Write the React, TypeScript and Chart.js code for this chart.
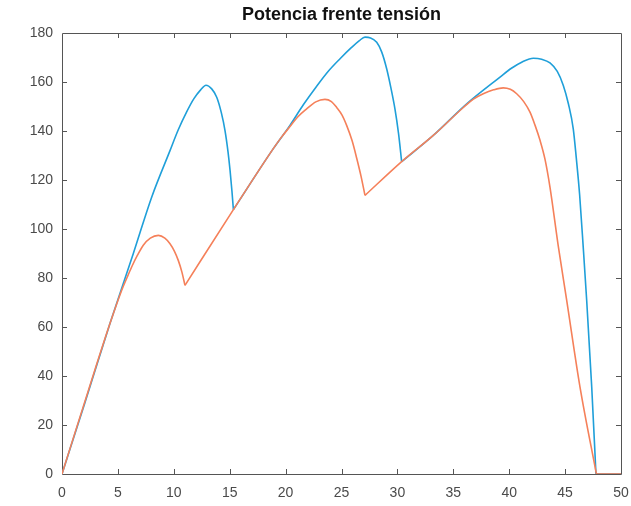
import React, { useEffect, useRef } from "react";
import { Chart, registerables } from "chart.js";

Chart.register(...registerables);

const TITLE = "Potencia frente tensión";

const X_MIN = 0;
const X_MAX = 50;
const X_STEP = 5;
const Y_MIN = 0;
const Y_MAX = 180;
const Y_STEP = 20;

// Blue series: voltage (V) and power (W)
const blueV = [
  0, 2, 4.29, 6.38, 8.02, 9.66, 10.4, 11.15, 11.8, 12.4, 12.88, 13.39, 13.84,
  14.25, 14.58, 14.85, 15.03, 15.2, 15.33,
  18.9, 20.39, 21.6, 22.78, 23.8, 24.87, 25.9, 26.6, 27.1, 27.6, 28.15, 28.6,
  29.04, 29.4, 29.78, 30.1, 30.38,
  33.21, 36.2, 39.18, 40.2, 41.2, 42.16, 42.9, 43.65, 44.3, 44.84, 45.3, 45.73,
  46.0, 46.3, 46.63, 46.93, 47.38, 47.76, 50,
];
const blueP = [
  0, 28.4, 61.4, 90, 113, 132, 140.5, 147.8, 153.2, 156.8, 158.7, 157.2, 153.8,
  147.5, 140.2, 131.5, 124, 115.5, 107.9,
  132.8, 142.3, 150.8, 158.3, 164.3, 169.5, 174.1, 176.9, 178.3, 178, 176.2, 172.2,
  165.4, 158, 149, 139, 127.5,
  138.2, 151.1, 162, 165.6, 168.3, 169.7, 169.3, 167.8, 164.3, 158.6, 151, 140.9,
  129, 114, 92, 70.9, 35.6, 0, 0,
];
// Voltages where the blue curve has a sharp corner
const blueCorners = [15.33, 30.38, 47.76];

// Orange series: voltage (V) and power (W)
const orangeV = [
  0, 2.65, 4.29, 5.34, 5.8, 6.23, 6.75, 7.27, 7.9, 8.62, 9.2, 9.66, 10.05, 10.4,
  10.72, 11.0,
  15.33, 18.9, 19.6, 20.39, 21.1, 21.88, 22.7, 23.52, 24.1, 24.57, 25.05, 25.46,
  25.95, 26.36, 26.75, 27.1,
  30.38, 33.21, 35.9, 36.8, 37.68, 38.6, 39.47, 40.1, 40.67, 41.3, 41.86, 42.3,
  42.75, 43.2, 43.65, 44.39, 45.14, 46.33, 47.8, 50,
];
const orangeP = [
  0, 38.3, 61.4, 75, 80, 84.5, 89.3, 93.4, 96.3, 97.4, 96.3, 94, 91, 87.2,
  82.5, 77,
  107.9, 132.8, 137.3, 141.8, 145.8, 149, 151.9, 152.9, 152, 149.6, 146.5, 142.3,
  136, 128.9, 121.5, 113.7,
  127.5, 138.2, 149.6, 153, 155.2, 156.8, 157.6, 157, 155.2, 152, 147.7, 142.5,
  136.3, 128.5, 117, 93, 71, 35.6, 0, 0,
];
// Voltages where the orange curve has a sharp corner
const orangeCorners = [11.0, 27.1, 47.8];

const BLUE = "#1f9fd9";
const ORANGE = "#f5805a";
const AXIS_COLOR = "#555555";
const LABEL_COLOR = "#4a4a4a";
const FONT_FAMILY = "'Liberation Sans', Arial, Helvetica, sans-serif";

function splitSeries(vs: number[], ps: number[], corners: number[]) {
  const pieces: { x: number; y: number }[][] = [];
  let cur: { x: number; y: number }[] = [];
  vs.forEach((v, i) => {
    const pt = { x: v, y: ps[i] };
    cur.push(pt);
    if (corners.includes(v)) {
      pieces.push(cur);
      cur = [pt];
    }
  });
  if (cur.length > 1) pieces.push(cur);
  return pieces;
}

const boxPlugin = {
  id: "matlabBox",
  beforeDatasetsDraw(chart: any) {
    const { ctx, chartArea, scales } = chart;
    const { left, right, top, bottom } = chartArea;
    const tl = 5;
    ctx.save();
    ctx.strokeStyle = AXIS_COLOR;
    ctx.lineWidth = 1;
    ctx.beginPath();
    ctx.rect(Math.round(left) + 0.5, Math.round(top) + 0.5, Math.round(right - left), Math.round(bottom - top));
    ctx.stroke();
    ctx.beginPath();
    for (const t of scales.x.ticks) {
      const px = Math.round(scales.x.getPixelForValue(t.value)) + 0.5;
      if (t.value === X_MIN || t.value === X_MAX) continue;
      ctx.moveTo(px, bottom);
      ctx.lineTo(px, bottom - tl);
      ctx.moveTo(px, top);
      ctx.lineTo(px, top + tl);
    }
    for (const t of scales.y.ticks) {
      const py = Math.round(scales.y.getPixelForValue(t.value)) + 0.5;
      if (t.value === Y_MIN || t.value === Y_MAX) continue;
      ctx.moveTo(left, py);
      ctx.lineTo(left + tl, py);
      ctx.moveTo(right, py);
      ctx.lineTo(right - tl, py);
    }
    ctx.stroke();
    ctx.restore();
  },
};

export default function App() {
  const ref = useRef<HTMLCanvasElement | null>(null);

  useEffect(() => {
    if (!ref.current) return;
    const makeSets = (pieces: { x: number; y: number }[][], color: string, order: number, name: string) =>
      pieces.map((data, k) => ({
        label: `${name} ${k + 1}`,
        data,
        borderColor: color,
        backgroundColor: color,
        borderWidth: 1.6,
        pointRadius: 0,
        cubicInterpolationMode: "monotone" as const,
        fill: false,
        order,
      }));
    const datasets = [
      ...makeSets(splitSeries(blueV, blueP, blueCorners), BLUE, 1, "Azul"),
      ...makeSets(splitSeries(orangeV, orangeP, orangeCorners), ORANGE, 0, "Naranja"),
    ];
    const chart = new Chart(ref.current, {
      type: "line",
      data: { datasets },
      options: {
        animation: false,
        responsive: false,
        layout: { padding: { top: 0, right: 10, left: 0, bottom: 0 } },
        plugins: {
          legend: { display: false },
          tooltip: { enabled: false },
          title: {
            display: true,
            text: TITLE,
            fullSize: false,
            color: "#111111",
            font: { family: FONT_FAMILY, size: 18, weight: "bold", lineHeight: 1.2 },
            padding: { top: 4.6, bottom: 6.8 },
          },
        },
        scales: {
          x: {
            type: "linear",
            min: X_MIN,
            max: X_MAX,
            grid: { display: false, drawTicks: false },
            border: { display: false },
            ticks: {
              stepSize: X_STEP,
              color: LABEL_COLOR,
              padding: 11,
              maxRotation: 0,
              font: { family: FONT_FAMILY, size: 14 },
            },
            afterFit(scale: any) {
              scale.height = 32;
              scale.paddingLeft = 0;
              scale.paddingRight = 0;
            },
          },
          y: {
            type: "linear",
            min: Y_MIN,
            max: Y_MAX,
            grid: { display: false, drawTicks: false },
            border: { display: false },
            ticks: {
              stepSize: Y_STEP,
              color: LABEL_COLOR,
              padding: 9,
              font: { family: FONT_FAMILY, size: 14 },
            },
            afterFit(scale: any) {
              scale.width = 62;
              scale.paddingTop = 0;
              scale.paddingBottom = 0;
            },
          },
        },
      },
      plugins: [boxPlugin],
    });
    return () => chart.destroy();
  }, []);

  return (
    <div style={{ position: "fixed", left: 0, top: 0, width: 631, height: 506, background: "#ffffff" }}>
      <canvas ref={ref} width={631} height={506} style={{ display: "block" }} />
    </div>
  );
}
